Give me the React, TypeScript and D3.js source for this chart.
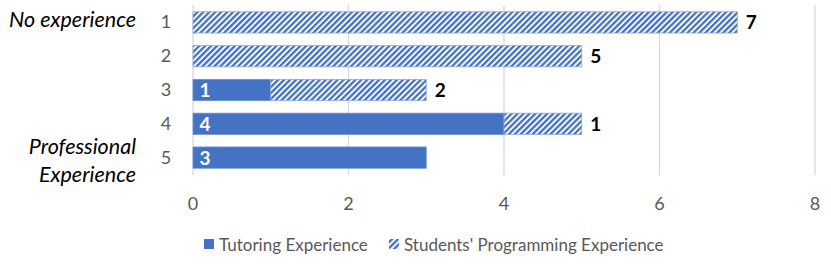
import React from "react";
import * as d3 from "d3";

const categories = ["1", "2", "3", "4", "5"];
const tutoring = [0, 0, 1, 4, 3];
const students = [7, 5, 2, 1, 0];
const xTicks = [0, 2, 4, 6, 8];
const seriesNames = ["Tutoring Experience", "Students' Programming Experience"];

const BLUE = "#4472C4";
const GREY = "#595959";
const FONT = "Lato, 'Open Sans', sans-serif";

const width = 831;
const height = 266;

export default function App() {
  const x = d3.scaleLinear().domain([0, 8]).range([193, 815]);
  const y = d3.scaleBand().domain(categories).range([5, 175]).paddingInner(0.37).paddingOuter(0.2);
  const bh = y.bandwidth();

  return (
    <svg width={width} height={height} style={{ position: "absolute", left: 0, top: 0 }}>
      <defs>
        <pattern id="hatch" patternUnits="userSpaceOnUse" width={4.2} height={4.2} patternTransform="rotate(45)">
          <rect width={4.2} height={4.2} fill="#fff" />
          <rect width={2.3} height={4.2} fill={BLUE} />
        </pattern>
      </defs>
      {/* grid */}
      {xTicks.map(t => (
        <line key={t} x1={x(t)} x2={x(t)} y1={5} y2={175} stroke="#d9d9d9" strokeWidth={1.3} />
      ))}
      {/* tick labels */}
      {xTicks.map(t => (
        <text key={t} x={x(t)} y={210} textAnchor="middle" fontSize={18} fill={GREY} fontFamily={FONT}>{t}</text>
      ))}
      {categories.map(c => (
        <text key={c} x={166} y={y(c)! + bh / 2 + 6} textAnchor="middle" fontSize={18} fill={GREY} fontFamily={FONT}>{c}</text>
      ))}
      {/* bars */}
      {categories.map((c, i) => {
        const yy = y(c)!;
        const t = tutoring[i];
        const s = students[i];
        return (
          <g key={c}>
            {t > 0 && <rect x={x(0)} y={yy} width={x(t) - x(0)} height={bh} fill={BLUE} stroke="#6f93d3" strokeWidth={0.8} />}
            {s > 0 && <rect x={x(t)} y={yy} width={x(t + s) - x(t)} height={bh} fill="url(#hatch)" stroke="#8eaadb" strokeWidth={0.8} />}
            {t > 0 && (
              <text x={x(0) + 12} y={yy + bh / 2 + 7} textAnchor="middle" fontSize={19} fontWeight="bold" fill="#fff" fontFamily={FONT}>{t}</text>
            )}
            {s > 0 && (
              <text x={x(t + s) + 14} y={yy + bh / 2 + 7} textAnchor="middle" fontSize={19} fontWeight="bold" fill="#000" fontFamily={FONT}>{s}</text>
            )}
          </g>
        );
      })}
      {/* side annotations */}
      <text x={136} y={27} textAnchor="end" fontSize={21.5} fontStyle="italic" fill="#000" fontFamily={FONT}>No experience</text>
      <text x={136} y={154} textAnchor="end" fontSize={21.5} fontStyle="italic" fill="#000" fontFamily={FONT}>Professional</text>
      <text x={136} y={182} textAnchor="end" fontSize={21.5} fontStyle="italic" fill="#000" fontFamily={FONT}>Experience</text>
      {/* legend */}
      <rect x={204} y={239} width={10} height={10} fill={BLUE} />
      <text x={219} y={251} fontSize={17} fill={GREY} fontFamily={FONT}>{seriesNames[0]}</text>
      <rect x={389} y={239} width={10} height={10} fill="url(#hatch)" />
      <text x={404} y={251} fontSize={17} fill={GREY} fontFamily={FONT}>{seriesNames[1]}</text>
    </svg>
  );
}
